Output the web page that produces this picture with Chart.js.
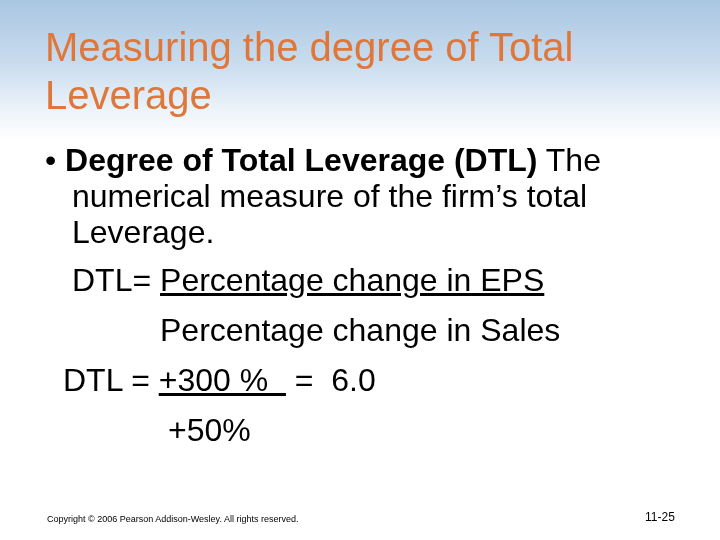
<!DOCTYPE html>
<html><head><meta charset="utf-8">
<script src="https://cdn.jsdelivr.net/npm/chart.js@4"></script>
<style>
body{margin:0;width:720px;height:540px;overflow:hidden;font-family:"Liberation Sans",Arial,sans-serif;background:#fff;position:relative}
#sky{position:absolute;left:0;top:0;width:720px;height:140px;background:linear-gradient(#a9c6e2 0%,#c9dcee 45%,#eef4fa 80%,#fff 100%)}
.t{position:absolute;white-space:nowrap;color:#000}
#c{position:absolute;left:0;top:0;width:720px;height:540px}
</style></head><body>
<div id="sky"></div>
<canvas id="c" width="720" height="540"></canvas>
<div class="t" style="left:45px;top:23px;font-size:40px;color:#e0773a;line-height:48px">Measuring the degree of Total<br>Leverage</div>
<div class="t" style="left:45px;top:142px;font-size:32px;line-height:36px">• <b>Degree of Total Leverage (DTL)</b> The</div>
<div class="t" style="left:72px;top:178px;font-size:32px;line-height:36px">numerical measure of the firm’s total<br>Leverage.</div>
<div class="t" style="left:72px;top:262px;font-size:32px">DTL= <u>Percentage change in EPS</u></div>
<div class="t" style="left:160px;top:312px;font-size:32px">Percentage change in Sales</div>
<div class="t" style="left:63px;top:362px;font-size:32px">DTL = <u>+300 %&nbsp;&nbsp;</u> = &nbsp;6.0</div>
<div class="t" style="left:168px;top:412px;font-size:32px">+50%</div>
<div class="t" style="left:47px;top:514px;font-size:9px">Copyright © 2006 Pearson Addison-Wesley. All rights reserved.</div>
<div class="t" style="left:645px;top:510px;font-size:12px">11-25</div>
<script>
const categories=[];const values=[];
new Chart(document.getElementById('c'),{type:'bar',data:{labels:categories,datasets:[{data:values}]},
options:{responsive:false,animation:false,plugins:{legend:{display:false},tooltip:{enabled:false}},scales:{x:{display:false},y:{display:false}}}});
</script>
</body></html>
